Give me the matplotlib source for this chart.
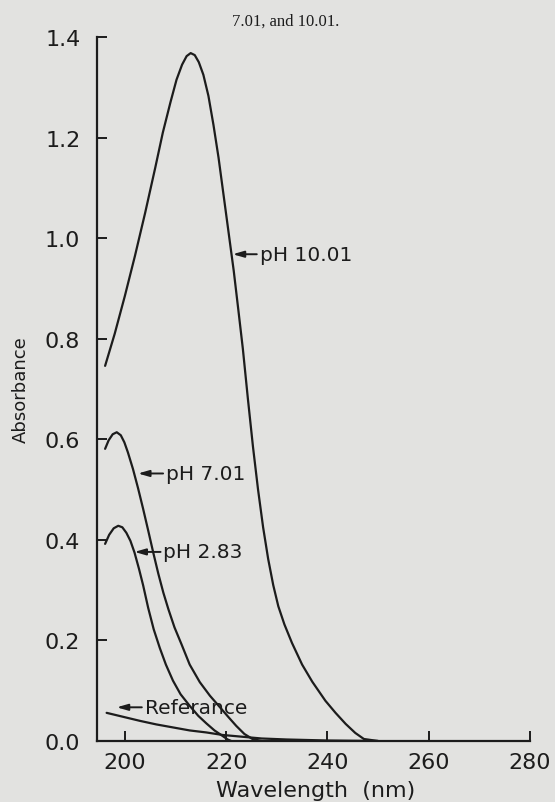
import matplotlib
matplotlib.use('Agg')
import matplotlib.pyplot as plt

# Wavelength (nm) / absorbance readings for each curve
wl_ph1001 = [196.1, 198.0, 200.0, 202.0, 204.0, 206.0, 207.5, 209.0, 210.2, 211.3, 212.2, 213.0,
             213.8, 214.6, 215.5, 216.5, 217.5, 218.5, 219.5, 220.5, 221.5, 222.4, 223.3,
             224.3, 225.3, 226.3, 227.3, 228.3, 229.3, 230.3, 231.5, 233.0, 235.0, 237.0,
             239.6, 241.6, 243.6, 245.5, 247.2, 250.0]
abs_ph1001 = [0.746, 0.810, 0.885, 0.965, 1.050, 1.140, 1.210, 1.270, 1.315, 1.345, 1.362, 1.368,
              1.364, 1.350, 1.325, 1.283, 1.225, 1.160, 1.085, 1.010, 0.935, 0.858, 0.780,
              0.680, 0.585, 0.500, 0.425, 0.362, 0.310, 0.268, 0.232, 0.195, 0.152, 0.118,
              0.080, 0.056, 0.034, 0.016, 0.004, 0.0]

wl_ph701 = [196.1, 196.8, 197.6, 198.4, 199.2, 199.9, 200.6, 201.6, 202.6, 203.6, 204.6, 205.6,
            206.6, 207.6, 208.6, 209.8, 211.2, 212.8, 214.8, 216.8, 218.7, 220.5, 222.0,
            223.6, 225.2, 227.0]
abs_ph701 = [0.581, 0.598, 0.610, 0.614, 0.608, 0.594, 0.574, 0.541, 0.503, 0.462, 0.419, 0.375,
             0.333, 0.295, 0.262, 0.226, 0.192, 0.152, 0.117, 0.090, 0.068, 0.047, 0.030,
             0.014, 0.004, 0.0]

wl_ph283 = [196.1, 196.9, 197.8, 198.7, 199.5, 200.3, 201.1, 201.9, 202.8, 203.6, 204.6, 205.7,
            206.9, 208.1, 209.5, 211.0, 212.8, 214.5, 216.1, 217.7, 219.3, 220.3, 221.0]
abs_ph283 = [0.392, 0.410, 0.423, 0.428, 0.425, 0.414, 0.398, 0.375, 0.342, 0.310, 0.265, 0.222,
             0.185, 0.152, 0.120, 0.093, 0.070, 0.050, 0.035, 0.021, 0.010, 0.003, 0.0]

wl_ref = [196.4, 199.7, 203.0, 206.2, 209.5, 212.8, 216.1, 219.3, 222.6, 227.0, 232.0, 240.0, 250.0]
abs_ref = [0.056, 0.048, 0.040, 0.033, 0.027, 0.021, 0.017, 0.012, 0.009, 0.005, 0.003, 0.001, 0.0]

x_ticks = [200, 220, 240, 260, 280]
y_ticks = [0.0, 0.2, 0.4, 0.6, 0.8, 1.0, 1.2, 1.4]

# label text, arrow tip (on curve), text start
labels = ['pH 10.01', 'pH 7.01', 'pH 2.83', 'Referance']
tips = [(221.3, 0.968), (202.6, 0.532), (201.9, 0.376), (198.4, 0.067)]
text_pos = [(226.6, 0.968), (208.1, 0.532), (207.6, 0.376), (203.9, 0.067)]

ink = '#1c1c1c'
paper = '#e2e2e0'

fig = plt.figure(figsize=(5.55, 8.03), dpi=100, facecolor=paper)
ax = fig.add_axes([97 / 555, 1 - 742 / 803, 433 / 555, 704 / 803])
ax.set_facecolor(paper)

for wl, ab in [(wl_ph1001, abs_ph1001), (wl_ph701, abs_ph701),
               (wl_ph283, abs_ph283), (wl_ref, abs_ref)]:
    ax.plot(wl, ab, color=ink, lw=1.6, solid_capstyle='round', solid_joinstyle='round')

for txt, tip, pos in zip(labels, tips, text_pos):
    ax.annotate(txt, xy=tip, xytext=pos, ha='left', va='center', fontsize=14.5, color=ink,
                arrowprops=dict(arrowstyle='-|>,head_length=0.45,head_width=0.13',
                                color=ink, lw=1.4, shrinkA=0, shrinkB=0, relpos=(0, 0.5)))

ax.set_xlim(194.5, 280)
ax.set_ylim(0, 1.4)
ax.set_xticks(x_ticks)
ax.set_yticks(y_ticks)
ax.set_yticklabels([f'{v:.1f}' for v in y_ticks])
ax.tick_params(direction='in', length=7, width=1.4, colors=ink, labelsize=16)
ax.tick_params(axis='y', pad=12)
ax.tick_params(axis='x', pad=8)
ax.spines['top'].set_visible(False)
ax.spines['right'].set_visible(False)
for s in ['left', 'bottom']:
    ax.spines[s].set_color(ink)
    ax.spines[s].set_linewidth(1.6)

ax.set_ylabel('Absorbance', fontsize=13, color=ink)
ax.yaxis.set_label_coords(-0.155, 0.5)
ax.set_xlabel('Wavelength  (nm)', fontsize=16, color=ink)
ax.xaxis.set_label_coords(0.505, -0.056)

fig.text(286 / 555, 1 - 22 / 803, '7.01, and 10.01.', family='Liberation Serif',
         fontsize=12, ha='center', va='center', color=ink)

fig.savefig('out.png', dpi=100, facecolor=paper)
